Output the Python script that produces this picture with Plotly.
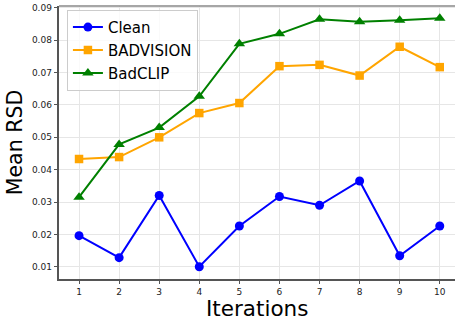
import plotly.graph_objects as go

iterations = [1, 2, 3, 4, 5, 6, 7, 8, 9, 10]
clean = [0.0196, 0.0128, 0.0320, 0.0100, 0.0226, 0.0317, 0.0290, 0.0365, 0.0134, 0.0226]
badvision = [0.0433, 0.0439, 0.0500, 0.0575, 0.0606, 0.0720, 0.0724, 0.0691, 0.0780, 0.0717]
badclip = [0.0315, 0.0478, 0.0530, 0.0627, 0.0789, 0.0820, 0.0865, 0.0857, 0.0862, 0.0868]
y_ticks = [0.01, 0.02, 0.03, 0.04, 0.05, 0.06, 0.07, 0.08, 0.09]

FONT = "DejaVu Sans"
fig = go.Figure()
series = [
    ("Clean", clean, "#0000ff", "circle", 9),
    ("BADVISION", badvision, "#ffa500", "square", 8.5),
    ("BadCLIP", badclip, "#008000", "triangle-up", 10),
]
for name, vals, color, sym, size in series:
    fig.add_trace(go.Scatter(
        x=iterations, y=vals, name=name, mode="lines+markers",
        line=dict(color=color, width=2),
        marker=dict(symbol=sym, size=size, color=color),
        legendgroup=name,
    ))

fig.update_layout(
    width=456, height=321,
    margin=dict(l=59, r=1, t=6, b=42),
    paper_bgcolor="white", plot_bgcolor="white",
    font=dict(family=FONT, color="#000000"),
    showlegend=True,
    legend=dict(
        x=0.02, y=0.986, xanchor="left", yanchor="top",
        bgcolor="rgba(255,255,255,0.8)", bordercolor="#cccccc", borderwidth=1,
        font=dict(family=FONT, size=15, color="#000000"),
        tracegroupgap=0.5,
    ),
)
fig.update_xaxes(
    range=[0.5, 10.38], tickmode="array", tickvals=iterations,
    ticktext=[str(i) for i in iterations],
    showgrid=True, gridcolor="#e6e6e6", gridwidth=1,
    showline=True, linecolor="#555555", linewidth=1.5,
    ticks="outside", ticklen=3.5, tickcolor="#555555",
    tickfont=dict(family=FONT, size=9, color="#222222"),
    zeroline=False,
)
fig.update_yaxes(
    range=[0.0062, 0.0906], tickmode="array", tickvals=y_ticks,
    ticktext=[f"{v:.2f}" for v in y_ticks],
    showgrid=True, gridcolor="#e6e6e6", gridwidth=1,
    showline=True, linecolor="#555555", linewidth=1.5,
    ticks="outside", ticklen=3.5, tickcolor="#555555",
    tickfont=dict(family=FONT, size=9, color="#222222"),
    title=dict(text="Mean RSD", font=dict(family=FONT, size=20.5), standoff=4),
    zeroline=False,
)
# x-axis title as annotation (placed below tick labels)
fig.add_annotation(text="Iterations", xref="paper", yref="paper",
                   x=0.5, y=-0.1065, xanchor="center", yanchor="middle",
                   showarrow=False, font=dict(family=FONT, size=21.5, color="#000000"))
# top spine
fig.add_shape(type="line", xref="paper", yref="paper", x0=0, x1=1, y0=1, y1=1,
              line=dict(color="#888888", width=1.5))

fig.write_html("out.html")
